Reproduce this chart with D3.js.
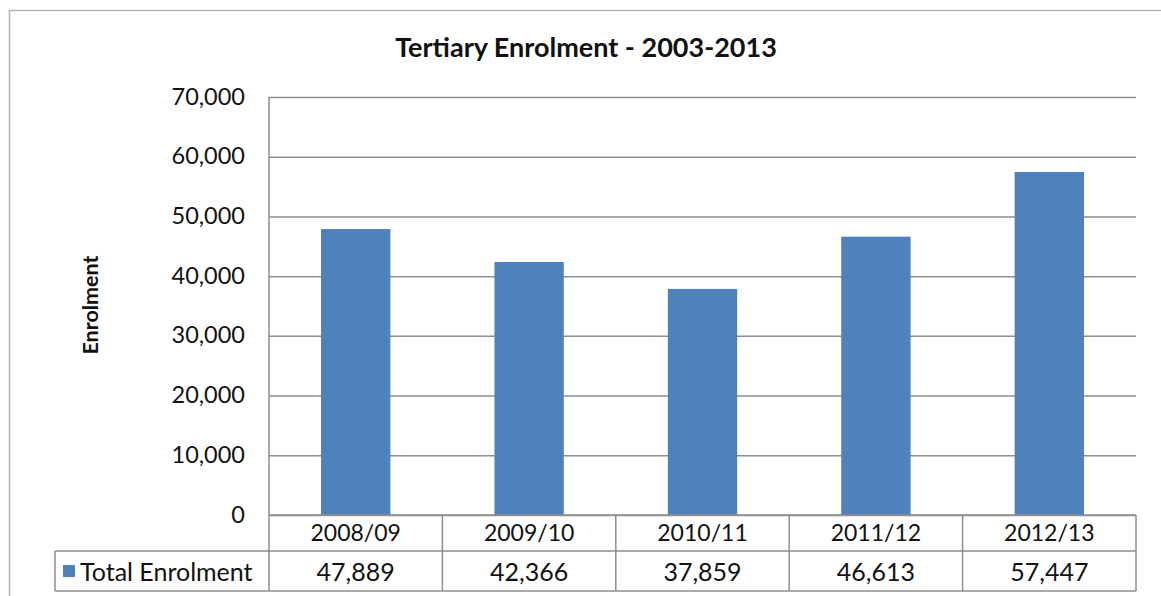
<!DOCTYPE html>
<html><head><meta charset="utf-8">
<script src="https://cdn.jsdelivr.net/npm/d3@7"></script>
<style>
html,body{margin:0;padding:0;background:#fff;}
svg{display:block;}
text{font-family:"Lato","Liberation Sans",sans-serif;fill:#111;}
</style></head>
<body>
<svg id="chart" width="1161" height="596"></svg>
<script>
const categories = ["2008/09","2009/10","2010/11","2011/12","2012/13"];
const enrolment = [47889, 42366, 37859, 46613, 57447];
const yTicks = [0,10000,20000,30000,40000,50000,60000,70000];
const seriesName = "Total Enrolment";
const chartTitle = "Tertiary Enrolment - 2003-2013";
const yTitle = "Enrolment";

const svg = d3.select("#chart");
const W = 1161, H = 596;
const plot = {left:269, right:1136, top:97, bottom:515};
const rowH1 = 36, rowH2 = 40, tableLeft = 55;

// outer frame
svg.append("rect").attr("x",9.5).attr("y",10.5).attr("width",W+10).attr("height",H+10)
  .attr("fill","none").attr("stroke","#b4b4b4").attr("stroke-width",1.5);

const x = d3.scaleBand().domain(categories).range([plot.left, plot.right]).paddingInner(0.6).paddingOuter(0.3);
const y = d3.scaleLinear().domain([0,70000]).range([plot.bottom, plot.top]);
const fmt = d3.format(",");

// gridlines
const yAxis = d3.axisLeft(y).tickValues(yTicks).tickFormat(fmt).tickSize(-(plot.right-plot.left)).tickPadding(24);
const gy = svg.append("g").attr("transform",`translate(${plot.left},0)`).call(yAxis);
gy.select(".domain").remove();
gy.selectAll(".tick line").attr("stroke","#8e8e8e").attr("stroke-width",1.5);
gy.selectAll(".tick text").attr("font-size",23.5).attr("fill","#111")
  .style("font-family","Lato, 'Liberation Sans', sans-serif").attr("dy","0.3em");

// bars
svg.append("g").selectAll("rect").data(categories).join("rect")
  .attr("x",d=>x(d)).attr("width",x.bandwidth())
  .attr("y",(d,i)=>y(enrolment[i])).attr("height",(d,i)=>y(0)-y(enrolment[i]))
  .attr("fill","#4f81bd");

// table
const step = x.step();
const colEdges = categories.map((d,i)=>plot.left + i*step).concat([plot.right]);
const tb = svg.append("g").attr("fill","none").attr("stroke","#8e8e8e").attr("stroke-width",1.5);
const yT0 = plot.bottom, yT1 = plot.bottom+rowH1, yT2 = yT1+rowH2;
tb.append("line").attr("x1",plot.left).attr("x2",plot.left).attr("y1",plot.top).attr("y2",yT2);
tb.append("line").attr("x1",plot.left).attr("x2",plot.right).attr("y1",yT0).attr("y2",yT0);
tb.append("line").attr("x1",tableLeft).attr("x2",plot.right).attr("y1",yT1).attr("y2",yT1);
tb.append("line").attr("x1",tableLeft).attr("x2",plot.right).attr("y1",yT2).attr("y2",yT2);
tb.append("line").attr("x1",tableLeft).attr("x2",tableLeft).attr("y1",yT1).attr("y2",yT2);
colEdges.slice(1).forEach(e=>{
  tb.append("line").attr("x1",e).attr("x2",e).attr("y1",yT0).attr("y2",yT2);
});

svg.append("g").selectAll("text").data(categories).join("text")
  .attr("x",d=>x(d)+x.bandwidth()/2).attr("y",yT0+rowH1/2).attr("dy","0.36em")
  .attr("text-anchor","middle").attr("font-size",23).text(d=>d);
svg.append("g").selectAll("text").data(enrolment).join("text")
  .attr("x",(d,i)=>x(categories[i])+x.bandwidth()/2).attr("y",yT1+rowH2/2).attr("dy","0.38em")
  .attr("text-anchor","middle").attr("font-size",25).text(d=>fmt(d));

// legend key
svg.append("rect").attr("x",63).attr("y",yT1+rowH2/2-6).attr("width",12).attr("height",12).attr("fill","#4f81bd");
svg.append("text").attr("x",80).attr("y",yT1+rowH2/2).attr("dy","0.38em").attr("font-size",25).text(seriesName);

// title
svg.append("text").attr("x",586).attr("y",57).attr("text-anchor","middle")
  .attr("font-size",27).attr("font-weight","bold").text(chartTitle);
// y title
svg.append("text").attr("transform","translate(98,305) rotate(-90)").attr("text-anchor","middle")
  .attr("font-size",21.5).attr("font-weight","bold").text(yTitle);
</script>
</body></html>
